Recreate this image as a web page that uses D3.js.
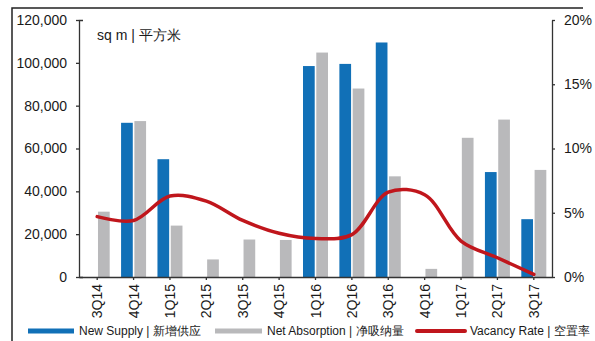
<!DOCTYPE html>
<html>
<head>
<meta charset="utf-8">
<style>
  body { margin: 0; background: #fff; }
  svg { display: block; font-family: "Liberation Sans", Arial, sans-serif; }
</style>
</head>
<body>
<svg width="595" height="341"></svg>
<script src="https://d3js.org/d3.v7.min.js"></script>
<script>
  var quarters = ["3Q14", "4Q14", "1Q15", "2Q15", "3Q15", "4Q15", "1Q16", "2Q16", "3Q16", "4Q16", "1Q17", "2Q17", "3Q17"];
  var newSupply = [0, 72000, 55000, 0, 0, 0, 98500, 99500, 109500, 0, 0, 49000, 27000];
  var netAbsorption = [30500, 72800, 24000, 8200, 17500, 17300, 104800, 88000, 47000, 3800, 65000, 73500, 50000];
  var vacancyRate = [4.7, 4.4, 6.3, 5.9, 4.4, 3.4, 3.0, 3.3, 6.6, 6.4, 2.8, 1.5, 0.2];
  var leftTicks = [0, 20000, 40000, 60000, 80000, 100000, 120000];
  var rightTicks = [0, 5, 10, 15, 20];

  var svg = d3.select("svg"),
      margin = {top: 20, right: 43, bottom: 64, left: 79},
      width = +svg.attr("width") - margin.left - margin.right,
      height = +svg.attr("height") - margin.top - margin.bottom,
      g = svg.append("g").attr("transform", "translate(" + margin.left + "," + margin.top + ")");

  var blue = "#1170b7", grey = "#b9b9bb", red = "#c0161c";

  // frame
  svg.append("path")
      .attr("d", "M12,341V8H583")
      .attr("fill", "none")
      .attr("stroke", "#222")
      .attr("stroke-width", 1.5);

  var x = d3.scaleBand().domain(quarters).range([0, width]);
  var x1 = d3.scaleBand().domain(["supply", "absorption"]).range([0, 25]).paddingInner(0.12);
  var y = d3.scaleLinear().domain([0, 120000]).range([height, 0]);
  var y2 = d3.scaleLinear().domain([0, 20]).range([height, 0]);

  var rows = quarters.map(function(q, i) {
    return {q: q, supply: newSupply[i], absorption: netAbsorption[i], vacancy: vacancyRate[i]};
  });

  function off(d) { return x(d.q) + x.bandwidth() / 2 - 12.5; }

  g.selectAll(".supply")
    .data(rows.filter(function(d) { return d.supply > 0; }))
    .enter().append("rect")
      .attr("x", function(d) { return off(d) + x1("supply"); })
      .attr("y", function(d) { return y(d.supply); })
      .attr("width", x1.bandwidth())
      .attr("height", function(d) { return height - y(d.supply); })
      .attr("fill", blue);

  g.selectAll(".absorption")
    .data(rows)
    .enter().append("rect")
      .attr("x", function(d) { return off(d) + x1("absorption"); })
      .attr("y", function(d) { return y(d.absorption); })
      .attr("width", x1.bandwidth())
      .attr("height", function(d) { return height - y(d.absorption); })
      .attr("fill", grey);

  // axes
  var ax = g.append("g")
      .attr("transform", "translate(0," + height + ")")
      .call(d3.axisBottom(x).tickSize(3).tickSizeOuter(0).tickPadding(4));
  ax.selectAll("text")
      .attr("transform", "rotate(-90)")
      .attr("text-anchor", "end")
      .attr("x", -7)
      .attr("y", 0)
      .attr("dy", "0.36em");

  g.append("g")
      .call(d3.axisLeft(y).tickValues(leftTicks).tickSize(3).tickSizeOuter(-4).tickPadding(9)
        .tickFormat(d3.format(",")));

  g.append("g")
      .attr("transform", "translate(" + width + ",0)")
      .call(d3.axisRight(y2).tickValues(rightTicks).tickSize(3).tickSizeOuter(0).tickPadding(9)
        .tickFormat(function(d) { return d + "%"; }));

  g.selectAll(".tick text").attr("font-size", 14).attr("fill", "#1a1a1a")
      .attr("font-family", "'Liberation Sans', Arial, sans-serif");
  g.selectAll(".domain, .tick line").attr("stroke", "#333").attr("stroke-width", 1.3);

  // vacancy line
  var line = d3.line()
      .x(function(d) { return x(d.q) + x.bandwidth() / 2; })
      .y(function(d) { return y2(d.vacancy); })
      .curve(d3.curveCatmullRom.alpha(0.5));

  g.append("path")
      .datum(rows)
      .attr("fill", "none")
      .attr("stroke", red)
      .attr("stroke-width", 3.5)
      .attr("stroke-linejoin", "round")
      .attr("stroke-linecap", "round")
      .attr("d", line);

  // unit label
  svg.append("text")
      .attr("x", 97).attr("y", 40)
      .attr("font-size", 14).attr("fill", "#1a1a1a")
      .text("sq m | 平方米");

  // legend
  var legend = [
    {label: "New Supply | 新增供应", color: blue, x: 28, w: 46, h: 5, round: false},
    {label: "Net Absorption | 净吸纳量", color: grey, x: 215, w: 47, h: 5, round: false},
    {label: "Vacancy Rate | 空置率", color: red, x: 417, w: 48, h: 4, round: true}
  ];
  var ly = 331;
  legend.forEach(function(l) {
    svg.append("line")
        .attr("x1", l.x).attr("x2", l.x + l.w)
        .attr("y1", ly).attr("y2", ly)
        .attr("stroke", l.color)
        .attr("stroke-width", l.h)
        .attr("stroke-linecap", l.round ? "round" : "butt");
    svg.append("text")
        .attr("x", l.x + l.w + 5).attr("y", ly)
        .attr("dy", "0.36em")
        .attr("font-size", 12).attr("fill", "#1a1a1a")
        .text(l.label);
  });
</script>
</body>
</html>
